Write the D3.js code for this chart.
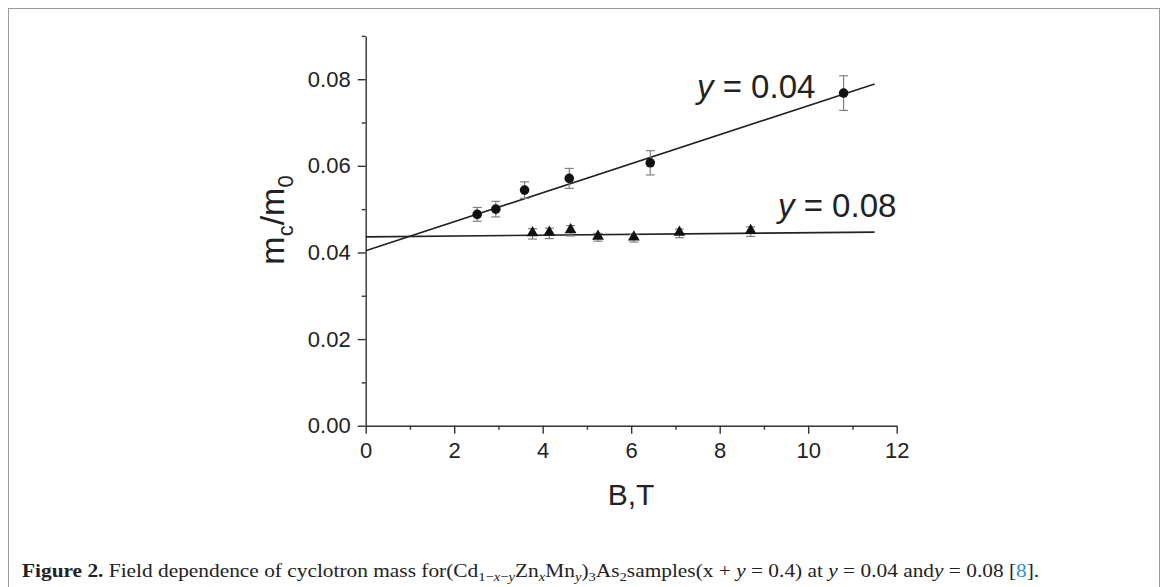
<!DOCTYPE html>
<html>
<head>
<meta charset="utf-8">
<script src="https://cdn.jsdelivr.net/npm/d3@7"></script>
<style>
  body { margin: 0; background: #fff; }
  svg text { fill: #222; }
</style>
</head>
<body>
<div id="chart"></div>
<script>
// Sample y = 0.04 (circles)
var fieldA = [2.52, 2.94, 3.59, 4.60, 6.43, 10.80];
var massA  = [0.0488, 0.0500, 0.0544, 0.0571, 0.0607, 0.0768];
var errA   = [0.0016, 0.0018, 0.0019, 0.0023, 0.0028, 0.0040];

// Sample y = 0.08 (triangles)
var fieldB = [3.77, 4.15, 4.63, 5.25, 6.06, 7.09, 8.70];
var massB  = [0.0443, 0.0444, 0.0450, 0.0435, 0.0433, 0.0444, 0.0448];
var errB   = [0.0012, 0.0012, 0.0012, 0.0009, 0.0009, 0.0010, 0.0011];

// Linear fits, end points [B, m]
var fitA = [[0, 0.0404], [11.5, 0.0789]];
var fitB = [[0, 0.0436], [11.5, 0.0447]];

var xTicks = [0, 2, 4, 6, 8, 10, 12];
var xMinor = [1, 3, 5, 7, 9, 11];
var yTicks = [0.00, 0.02, 0.04, 0.06, 0.08];
var yMinor = [0.01, 0.03, 0.05, 0.07, 0.09];

var width = 1168, height = 587;

var svg = d3.select("#chart").append("svg")
    .attr("width", width)
    .attr("height", height);

// figure frame
svg.append("rect")
    .attr("x", 8.5).attr("y", 8.5)
    .attr("width", 1151).attr("height", 640)
    .style("fill", "none")
    .style("stroke", "#9a9a9a")
    .style("stroke-width", 1);

var x = d3.scaleLinear().domain([0, 12]).range([365.7, 896.7]);
var y = d3.scaleLinear().domain([0, 0.09]).range([425.7, 35.9]);

var axisFont = "Liberation Sans, Arial, sans-serif";

// x axis
var gx = svg.append("g").attr("transform", "translate(0," + y(0) + ")");
gx.call(d3.axisBottom(x).tickValues(xTicks).tickSize(8).tickSizeOuter(0).tickPadding(9));
gx.append("g").call(d3.axisBottom(x).tickValues(xMinor).tickSize(4).tickFormat(""))
  .select(".domain").remove();

// y axis
var gy = svg.append("g").attr("transform", "translate(" + x(0) + ",0)");
gy.call(d3.axisLeft(y).tickValues(yTicks).tickSize(8).tickSizeOuter(0).tickPadding(7)
  .tickFormat(d3.format(".2f")));
gy.append("g").call(d3.axisLeft(y).tickValues(yMinor).tickSize(4).tickFormat(""))
  .select(".domain").remove();

svg.selectAll(".tick text")
    .style("font-family", axisFont)
    .style("font-size", "22px")
    .style("fill", "#222");
svg.selectAll(".domain, .tick line")
    .style("stroke", "#333")
    .style("stroke-width", 1.4);

// axis titles
svg.append("text")
    .attr("x", 631).attr("y", 505)
    .attr("text-anchor", "middle")
    .style("font-family", axisFont)
    .style("font-size", "30px")
    .text("B,T");

var ytitle = svg.append("text")
    .attr("transform", "translate(284,220) rotate(-90)")
    .attr("text-anchor", "middle")
    .style("font-family", axisFont)
    .style("font-size", "34px");
ytitle.append("tspan").text("m");
ytitle.append("tspan").attr("dy", 9).style("font-size", "22px").text("c");
ytitle.append("tspan").attr("dy", -9).text("/m");
ytitle.append("tspan").attr("dy", 9).style("font-size", "22px").text("0");

// fit lines
var line = d3.line().x(function(d) { return x(d[0]); }).y(function(d) { return y(d[1]); });
[fitA, fitB].forEach(function(f) {
  svg.append("path")
      .attr("d", line(f))
      .style("fill", "none")
      .style("stroke", "#222")
      .style("stroke-width", 1.6);
});

// error bars
function errorBars(fields, masses, errs) {
  var g = svg.append("g").style("stroke", "#808080").style("stroke-width", 1.2);
  fields.forEach(function(b, i) {
    var cx = x(b), top = y(masses[i] + errs[i]), bot = y(masses[i] - errs[i]);
    g.append("line").attr("x1", cx).attr("x2", cx).attr("y1", top).attr("y2", bot);
    g.append("line").attr("x1", cx - 4.5).attr("x2", cx + 4.5).attr("y1", top).attr("y2", top);
    g.append("line").attr("x1", cx - 4.5).attr("x2", cx + 4.5).attr("y1", bot).attr("y2", bot);
  });
}
errorBars(fieldA, massA, errA);
errorBars(fieldB, massB, errB);

// markers
svg.append("g").selectAll("circle")
    .data(d3.range(fieldA.length))
    .enter().append("circle")
    .attr("cx", function(i) { return x(fieldA[i]); })
    .attr("cy", function(i) { return y(massA[i]); })
    .attr("r", 4.8)
    .style("fill", "#111");

var tri = d3.symbol().type(d3.symbolTriangle).size(60);
svg.append("g").selectAll("path")
    .data(d3.range(fieldB.length))
    .enter().append("path")
    .attr("d", tri)
    .attr("transform", function(i) { return "translate(" + x(fieldB[i]) + "," + (y(massB[i]) - 1) + ")"; })
    .style("fill", "#111");

// series labels
function seriesLabel(px, py, val) {
  var t = svg.append("text")
      .attr("x", px).attr("y", py)
      .style("font-family", axisFont)
      .style("font-size", "33px");
  t.append("tspan").style("font-style", "italic").text("y");
  t.append("tspan").text(" = " + val);
}
seriesLabel(697, 98, "0.04");
seriesLabel(778, 217, "0.08");

// caption
var cap = svg.append("text")
    .attr("x", 0).attr("y", 0)
    .style("font-family", "Liberation Serif, Times New Roman, serif")
    .style("font-size", "19px");
function part(txt, opts) {
  opts = opts || {};
  var s = cap.append("tspan").text(txt);
  if (opts.bold) s.style("font-weight", "bold");
  if (opts.italic) s.style("font-style", "italic");
  if (opts.dy) s.attr("dy", opts.dy);
  if (opts.small) s.style("font-size", "13px");
  if (opts.color) s.style("fill", opts.color);
  return s;
}
part("Figure 2.", {bold: true});
part(" Field dependence of cyclotron mass for(Cd");
part("1\u2212", {small: true, dy: 4});
part("x", {small: true, italic: true});
part("\u2212", {small: true});
part("y", {small: true, italic: true});
part("Zn", {dy: -4});
part("x", {small: true, italic: true, dy: 4});
part("Mn", {dy: -4});
part("y", {small: true, italic: true, dy: 4});
part(")", {dy: -4});
part("3", {small: true, dy: 4});
part("As", {dy: -4});
part("2", {small: true, dy: 4});
part("samples(x + ", {dy: -4});
part("y", {italic: true});
part(" = 0.4) at ");
part("y", {italic: true});
part(" = 0.04 and");
part("y", {italic: true});
part(" = 0.08 [");
part("8", {color: "#2a8fd4"});
part("].");

// stretch caption to the width it spans in the figure
var capW = cap.node().getBBox().width;
cap.attr("transform", "translate(22,577) scale(" + (1018 / capW) + ",1)");
</script>
</body>
</html>
